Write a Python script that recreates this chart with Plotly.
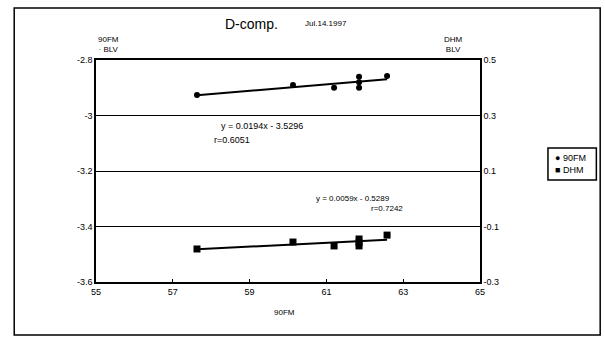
import numpy as np
import plotly.graph_objects as go

# Data
x_fm = [57.63, 60.13, 61.2, 61.85, 61.85, 61.85, 62.58]
y_fm = [-2.926, -2.89, -2.90, -2.86, -2.88, -2.90, -2.858]
x_dhm = [57.63, 60.13, 61.2, 61.85, 61.85, 61.85, 62.58]
y_dhm = [-0.181, -0.156, -0.170, -0.145, -0.158, -0.170, -0.131]

x_ticks = [55, 57, 59, 61, 63, 65]
left_ticks = [-3.6, -3.4, -3.2, -3.0, -2.8]
left_labels = ["-3.6", "-3.4", "-3.2", "-3", "-2.8"]
right_ticks = [-0.3, -0.1, 0.1, 0.3, 0.5]
right_labels = ["-0.3", "-0.1", "0.1", "0.3", "0.5"]

series_names = ["90FM", "DHM"]
eq_fm = ["y = 0.0194x - 3.5296", "r=0.6051"]
eq_dhm = ["y = 0.0059x - 0.5289", "r=0.7242"]

FONT = "Liberation Sans, Arial, sans-serif"

# trendlines fitted from the data
def fit(xs, ys):
    k, b = np.polyfit(xs, ys, 1)
    xl = [min(xs), max(xs)]
    return xl, [k * v + b for v in xl]

fx, fy = fit(x_fm, y_fm)
dx, dy = fit(x_dhm, y_dhm)

fig = go.Figure()
fig.add_trace(go.Scatter(x=fx, y=fy, mode="lines", line=dict(color="black", width=2),
                         showlegend=False, hoverinfo="skip"))
fig.add_trace(go.Scatter(x=dx, y=dy, mode="lines", line=dict(color="black", width=2),
                         showlegend=False, hoverinfo="skip", yaxis="y2"))
fig.add_trace(go.Scatter(x=x_fm, y=y_fm, mode="markers", name=series_names[0],
                         marker=dict(symbol="circle", size=6, color="black")))
fig.add_trace(go.Scatter(x=x_dhm, y=y_dhm, mode="markers", name=series_names[1], yaxis="y2",
                         marker=dict(symbol="square", size=7, color="black")))

fig.update_layout(
    width=605, height=342,
    margin=dict(l=96, r=125, t=60, b=60, autoexpand=False),
    paper_bgcolor="white", plot_bgcolor="white",
    font=dict(family=FONT, size=8, color="black"),
    xaxis=dict(range=[55, 65], tickvals=x_ticks, showgrid=False, zeroline=False,
               showline=True, linecolor="black", linewidth=1.5, mirror=True,
               ticks="inside", ticklen=3, tickcolor="black",
               tickfont=dict(size=9)),
    yaxis=dict(range=[-3.6, -2.8], tickvals=left_ticks, ticktext=left_labels,
               showgrid=True, gridcolor="black", gridwidth=1.2, zeroline=False,
               showline=True, linecolor="black", linewidth=1.5,
               tickfont=dict(size=9)),
    yaxis2=dict(range=[-0.3, 0.5], tickvals=right_ticks, ticktext=right_labels,
                overlaying="y", side="right", showgrid=False, zeroline=False,
                showline=True, linecolor="black", linewidth=1.5,
                tickfont=dict(size=9)),
    showlegend=False,
)

# outer frame
fig.add_shape(type="rect", xref="paper", yref="paper",
              x0=-0.213, x1=1.313, y0=-0.239, y1=1.234,
              line=dict(color="black", width=1.5))

# legend box (frame drawn as a path so it is a separate element from the text)
fig.add_shape(type="path", xref="paper", yref="paper", layer="above",
              path="M 1.177 0.459 L 1.303 0.459 L 1.303 0.604 L 1.177 0.604 Z",
              line=dict(color="black", width=1.5))
fig.add_annotation(text="● " + series_names[0] + "<br>■ " + series_names[1],
                   x=1.19, y=0.531, xref="paper", yref="paper",
                   xanchor="left", yanchor="middle", showarrow=False, align="left",
                   font=dict(size=9, family=FONT, color="black"))

ann = [
    dict(text="D-comp.", x=0.33, y=1.205, size=14),
    dict(text="Jul.14.1997", x=0.6, y=1.195, size=8),
    dict(text="90FM<br>· BLV", x=0.0, y=1.12, size=8),
    dict(text="DHM<br>BLV", x=0.96, y=1.12, size=8),
    dict(text="90FM", x=0.49, y=-0.165, size=8),
    dict(text=eq_fm[0], x=0.32, y=0.735, size=9),
    dict(text=eq_fm[1], x=0.355, y=0.64, size=9),
    dict(text=eq_dhm[0], x=0.77, y=0.375, size=8),
    dict(text=eq_dhm[1], x=0.805, y=0.302, size=8),
]
for a in ann:
    fig.add_annotation(text=a["text"], x=a["x"], y=a["y"], xref="paper", yref="paper",
                       showarrow=False, font=dict(size=a["size"], family=FONT, color="black"),
                       align="center")

fig.write_html(
    "out.html",
    post_script=(
        "document.body.style.margin='0px';document.body.style.overflow='hidden';"
        "var s=document.createElement('style');"
        "s.innerHTML='.modebar-container{display:none !important;}';"
        "document.head.appendChild(s);"
    ),
)
